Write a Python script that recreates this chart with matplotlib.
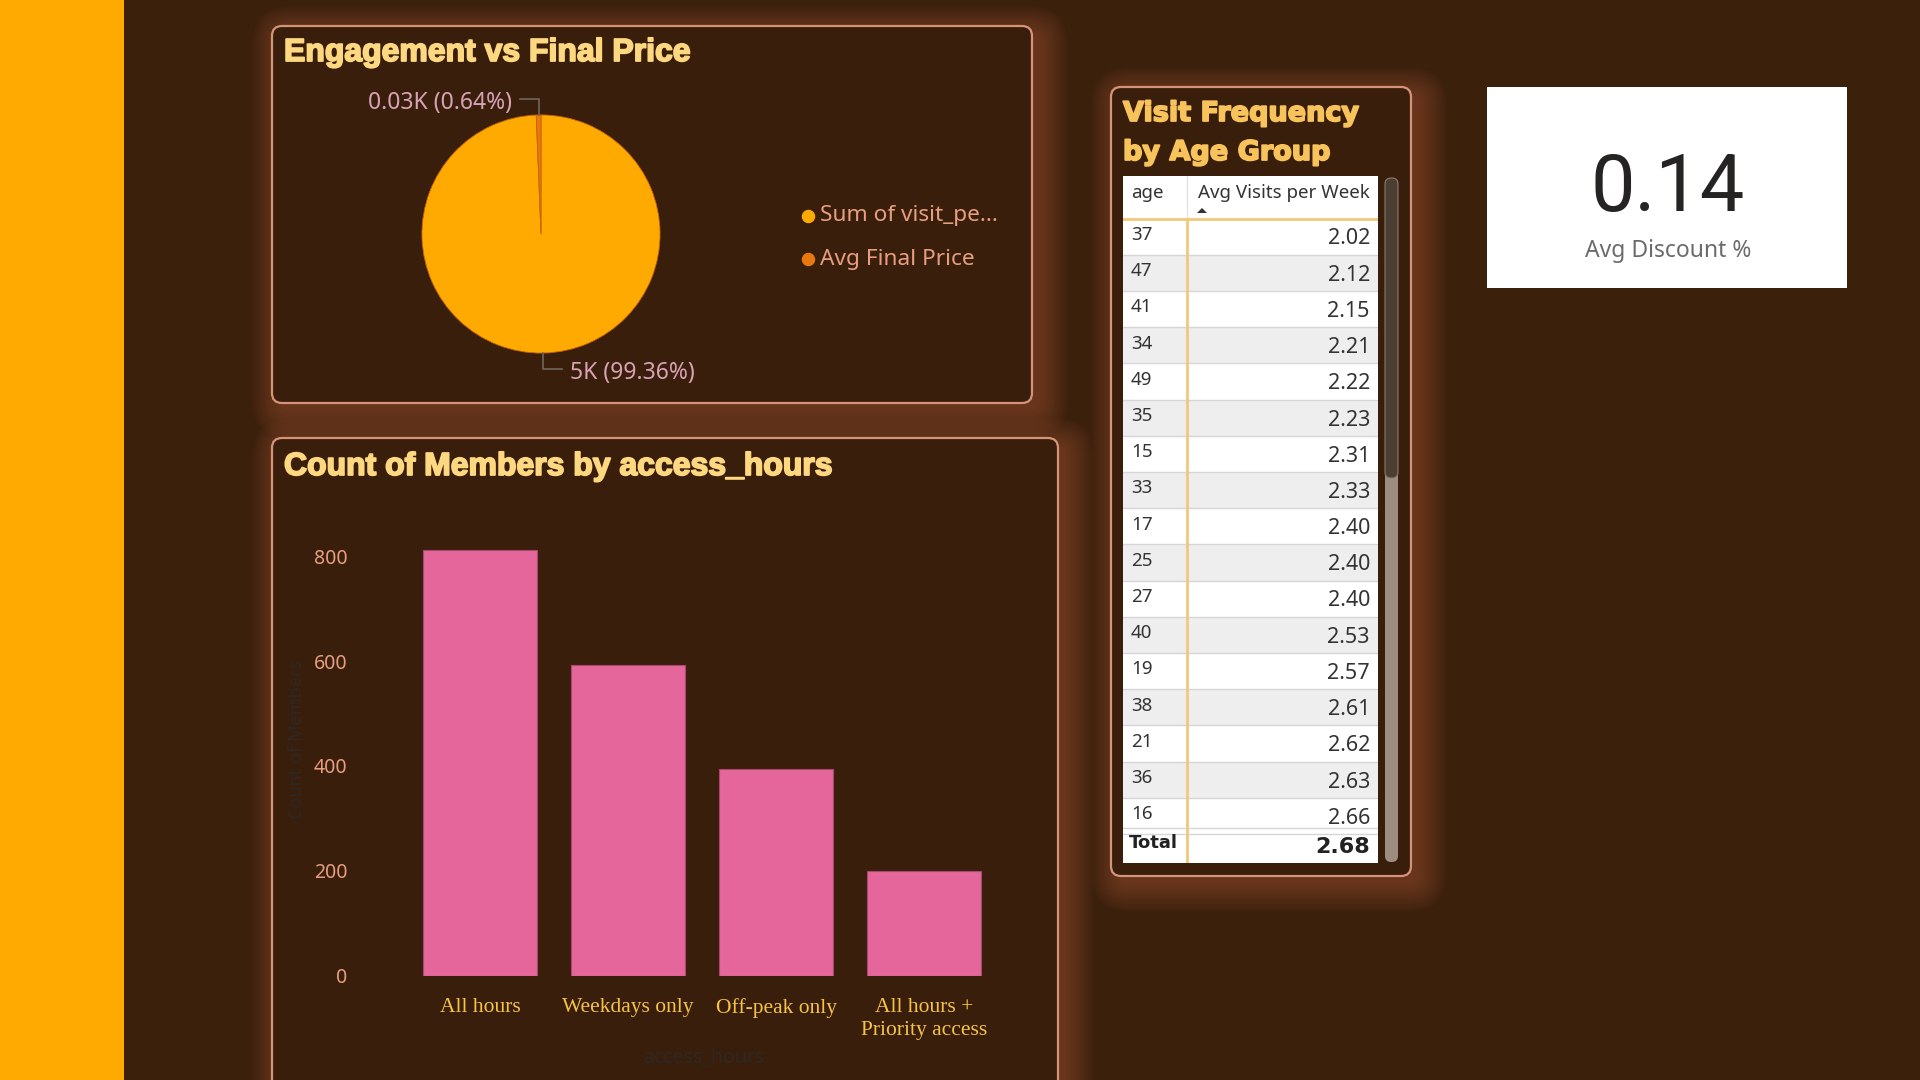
import numpy as np
import matplotlib
matplotlib.use('Agg')
import matplotlib.pyplot as plt
import matplotlib.patheffects as pe
from matplotlib.patches import FancyBboxPatch, Rectangle, Polygon

W, H = 1920, 1080
DPI = 100

# --- data ---
pie_names = ['Sum of visit_pe...', 'Avg Final Price']
pie_values = [4968, 32]
pie_display = ['5K', '0.03K']

access_hours = ['All hours', 'Weekdays only', 'Off-peak only', 'All hours +\nPriority access']
member_counts = [812, 593, 395, 200]
y_ticks = [0, 200, 400, 600, 800]

ages = [37, 47, 41, 34, 49, 35, 15, 33, 17, 25, 27, 40, 19, 38, 21, 36, 16]
avg_visits = [2.02, 2.12, 2.15, 2.21, 2.22, 2.23, 2.31, 2.33, 2.40, 2.40,
              2.40, 2.53, 2.57, 2.61, 2.62, 2.63, 2.66]
total_visits = 2.68
table_cols = ['age', 'Avg Visits per Week']

avg_discount = 0.14

# --- colours ---
BG = '#3B200C'
CARD = '#391E0B'
EDGE = '#D59478'
GLOW = '#9A5234'
TITLE = '#FDD880'
SALMON = '#E79E80'
PIE_COLORS = ['#FFAA00', '#E8790F']

fig = plt.figure(figsize=(W / DPI, H / DPI), dpi=DPI)
fig.patch.set_facecolor(BG)


def box(x0, y0, x1, y1):
    return [x0 / W, 1 - y1 / H, (x1 - x0) / W, (y1 - y0) / H]


bg = fig.add_axes([0, 0, 1, 1], zorder=0)
bg.set_xlim(0, W)
bg.set_ylim(H, 0)
bg.axis('off')

bg.add_patch(Rectangle((0, 0), 124, H, color='#FFAA00', lw=0))


def card(x0, y0, x1, y1):
    # soft shadow, shifted down-right
    for i in range(12):
        e = i * 2.5
        bg.add_patch(FancyBboxPatch((x0 + 8 - e, y0 + 8 - e), x1 - x0 + 2 * e, y1 - y0 + 2 * e,
                                    boxstyle='round,pad=0,rounding_size=%g' % (10 + e),
                                    fc=GLOW, ec='none', alpha=0.06))
    bg.add_patch(FancyBboxPatch((x0, y0), x1 - x0, y1 - y0,
                                boxstyle='round,pad=0,rounding_size=10',
                                fc=CARD, ec=EDGE, lw=1.6))


card(272, 26, 1032, 403)
card(272, 438, 1058, 1110)
card(1111, 87, 1411, 876)

heavy = [pe.withStroke(linewidth=1.3, foreground=TITLE)]
heavy2 = [pe.withStroke(linewidth=1.3, foreground='#F7C35A')]

# titles
bg.text(284, 53, 'Engagement vs Final Price', color=TITLE, fontsize=23,
        fontweight='bold', family='Liberation Sans', va='center', ha='left', path_effects=heavy)
bg.text(284, 467, 'Count of Members by access_hours', color=TITLE, fontsize=23,
        fontweight='bold', family='Liberation Sans', va='center', ha='left', path_effects=heavy)
bg.text(1123, 114, 'Visit Frequency', color='#F7C35A', fontsize=19.5,
        fontweight='bold', family='DejaVu Sans', va='center', ha='left', path_effects=heavy2)
bg.text(1123, 153, 'by Age Group', color='#F7C35A', fontsize=19.5,
        fontweight='bold', family='DejaVu Sans', va='center', ha='left', path_effects=heavy2)

# --- pie ---
axp = fig.add_axes(box(391, 84, 691, 384), zorder=2)
axp.set_facecolor('none')
wedges, _ = axp.pie(pie_values, colors=PIE_COLORS, startangle=90, counterclock=False,
                    radius=1, wedgeprops=dict(linewidth=0.6, edgecolor='#C8640A'))
axp.set_xlim(-1.26, 1.26)
axp.set_ylim(-1.26, 1.26)
axp.set_aspect('equal')
axp.axis('off')
total = sum(pie_values)
for w, v, d in zip(wedges, pie_values, pie_display):
    ang = np.deg2rad((w.theta1 + w.theta2) / 2)
    x, y = np.cos(ang), np.sin(ang)
    side = 1 if x > 0 else -1
    ye = np.sign(y) * 1.135
    axp.plot([x, x, x + side * 0.16], [y, ye, ye], color='#6E6660', lw=1.2, clip_on=False)
    axp.text(x + side * 0.22, ye - 0.035, '%s (%.2f%%)' % (d, v / total * 100),
             ha='left' if side > 0 else 'right', va='center', color='#D9A2B4',
             fontsize=16.5, family='Noto Sans', clip_on=False)

# legend
for i, (name, c) in enumerate(zip(pie_names, PIE_COLORS)):
    yy = 216 + i * 43
    bg.scatter([808], [yy], s=75, color=c, zorder=3)
    bg.text(820, yy, name, color=SALMON, fontsize=16.3, family='Noto Sans',
            va='center', ha='left')

# --- bars ---
px_per = 419.2 / 800
axb = fig.add_axes(box(360, 975.5 - 830 * px_per, 998, 975.5), zorder=2)
axb.set_facecolor('none')
xs = np.arange(len(access_hours))
axb.bar(xs, member_counts, width=0.765, color='#E4669A', edgecolor='#A84A6E', lw=0.8)
axb.set_xlim(-0.811, 3.5)
axb.set_ylim(0, 830)
axb.set_yticks(y_ticks)
axb.set_yticklabels([str(t) for t in y_ticks], color=SALMON, fontsize=14, family='Noto Sans')
axb.set_xticks(xs)
axb.set_xticklabels(access_hours, color='#F6C346', fontsize=15.5,
                    family='Liberation Serif', linespacing=1.32)
axb.tick_params(axis='y', length=0, pad=9)
axb.tick_params(axis='x', length=0, pad=16)
for s in axb.spines.values():
    s.set_visible(False)
axb.set_ylabel('Count of Members', color='#2E2824', fontsize=13, family='Noto Sans')
axb.yaxis.set_label_coords(-0.085, 0.544)
axb.set_xlabel('access_hours', color='#2E2824', fontsize=14, family='Noto Sans')
axb.xaxis.set_label_coords(0.539, -0.165)

# --- table ---
tx0, ty0, tx1, ty1 = 1123, 176, 1378, 863
axt = fig.add_axes(box(tx0, ty0, tx1, ty1), zorder=2)
axt.set_xlim(0, tx1 - tx0)
axt.set_ylim(ty1 - ty0, 0)
axt.axis('off')
tw = tx1 - tx0
head_h = 42.5
row_h = 36.2
axt.add_patch(Rectangle((0, 0), tw, ty1 - ty0, fc='white', ec='none'))
col_x = 64
for i, (a, v) in enumerate(zip(ages, avg_visits)):
    top = head_h + i * row_h
    fc = '#EEEEEE' if i % 2 else 'white'
    axt.add_patch(Rectangle((0, top), tw, row_h, fc=fc, ec='none'))
    axt.plot([0, tw], [top + row_h, top + row_h], color='#D6D6D6', lw=1)
    axt.text(8, top + 16.5, str(a), fontsize=13.5, family='Noto Sans', color='#333333',
             va='center', ha='left')
    axt.text(tw - 8, top + 20.5, '%.2f' % v, fontsize=15.5, family='Noto Sans',
             color='#333333', va='center', ha='right')
# total row
tot_top = 652
axt.add_patch(Rectangle((0, tot_top), tw, ty1 - ty0 - tot_top, fc='white', ec='none'))
axt.plot([0, tw], [tot_top, tot_top], color='#D6D6D6', lw=1)
axt.text(6, tot_top + 15, 'Total', fontsize=13, family='DejaVu Sans', fontweight='bold',
         color='#222222', va='center', ha='left')
axt.text(tw - 8, tot_top + 19, '%.2f' % total_visits, fontsize=16, family='DejaVu Sans',
         fontweight='bold', color='#222222', va='center', ha='right')
# header
axt.text(8, 17, table_cols[0], fontsize=13.5, family='Noto Sans', color='#333333',
         va='center', ha='left')
axt.text(tw - 8, 17, table_cols[1], fontsize=13.5, family='Noto Sans', color='#333333',
         va='center', ha='right')
axt.add_patch(Polygon([[74, 37], [84, 37], [79, 32]], closed=True, fc='#333333', ec='none'))
axt.plot([col_x, col_x], [0, head_h], color='#E2E2E2', lw=1)
axt.plot([0, tw], [head_h, head_h], color='#F2C879', lw=2)
axt.plot([col_x, col_x], [head_h, ty1 - ty0], color='#F2C879', lw=2)

# scrollbar
bg.add_patch(FancyBboxPatch((1385, 178), 13, 684, boxstyle='round,pad=0,rounding_size=6',
                            fc='#9C8D81', ec='none', zorder=3))
bg.add_patch(FancyBboxPatch((1385, 178), 13, 300, boxstyle='round,pad=0,rounding_size=6',
                            fc='#4B3E33', ec='#8A7A6C', lw=0.8, zorder=3))

# --- KPI card ---
bg.add_patch(Rectangle((1487, 87), 360, 201, fc='white', ec='none'))
bg.text(1668, 189, '%.2f' % avg_discount, fontsize=57, family='Roboto', color='#252423',
        ha='center', va='center')
bg.text(1668, 251, 'Avg Discount %', fontsize=16.5, family='Noto Sans', color='#6B6B6B',
        ha='center', va='center')

fig.savefig('out.png', dpi=DPI, facecolor=BG)
